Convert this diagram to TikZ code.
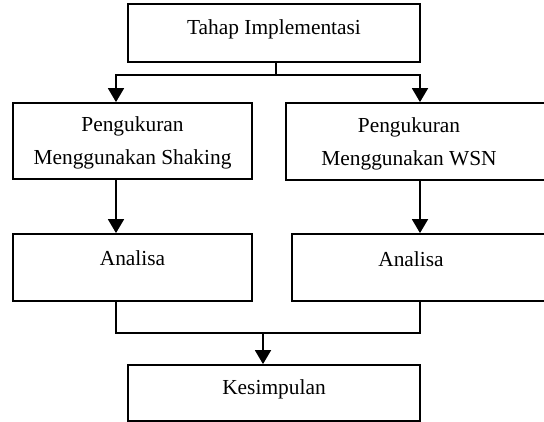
\documentclass[tikz,border=0pt]{standalone}
\usepackage{fontspec}
\setmainfont{Liberation Serif}
\usetikzlibrary{arrows.meta, positioning, calc}

\tikzset{
    box/.style = {draw, line width=1.8pt, align=center, inner sep=0pt,
                  font=\fontsize{21.4}{33}\selectfont},
    lbl/.style = {align=center, inner sep=0pt, font=\fontsize{21.4}{33}\selectfont},
    line/.style = {line width=1.8pt},
    arrow/.style = {line width=1.8pt, -{Triangle[length=14pt, width=16pt]}}
}

\begin{document}
\begin{tikzpicture}[x=1pt, y=1pt]
\useasboundingbox (0,0) rectangle (544,-422);
\clip (0,0) rectangle (544,-422);

% boxes
\node[box, minimum width=292pt, minimum height=58pt, text depth=11pt] (tahap) at (274,-33) {Tahap Implementasi};
\node[box, minimum width=239pt, minimum height=76pt, text depth=0pt] (ukurShaking) at (132.5,-141) {Pengukuran\\Menggunakan Shaking};
\node[box, minimum width=274pt, minimum height=77pt,
      label={[lbl, xshift=-14pt, yshift=-2.5pt]center:Pengukuran\\Menggunakan WSN}] (ukurWSN) at (423,-141.5) {};
\node[box, minimum width=239pt, minimum height=67pt, text depth=18pt] (anaShaking) at (132.5,-267.5) {Analisa};
\node[box, minimum width=268pt, minimum height=67pt,
      label={[lbl, xshift=-15pt, yshift=8.5pt]center:Analisa}] (anaWSN) at (426,-267.5) {};
\node[box, minimum width=292pt, minimum height=56pt, text depth=12pt] (simpul) at (274,-393) {Kesimpulan};

% columns and junctions
\coordinate (colL) at (116,0);
\coordinate (colR) at (420,0);
\coordinate (split) at (276,-75);
\coordinate (merge) at (263,-333);

% split
\draw[line] (tahap.south -| split) -- (split);
\draw[arrow] (split) -| (colL |- ukurShaking.north);
\draw[arrow] (split) -| (colR |- ukurWSN.north);

% down
\draw[arrow] (colL |- ukurShaking.south) -- (colL |- anaShaking.north);
\draw[arrow] (colR |- ukurWSN.south) -- (colR |- anaWSN.north);

% merge
\draw[line] (colL |- anaShaking.south) |- (merge) -| (colR |- anaWSN.south);
\draw[arrow] (merge) -- (merge |- simpul.north);
\end{tikzpicture}
\end{document}
